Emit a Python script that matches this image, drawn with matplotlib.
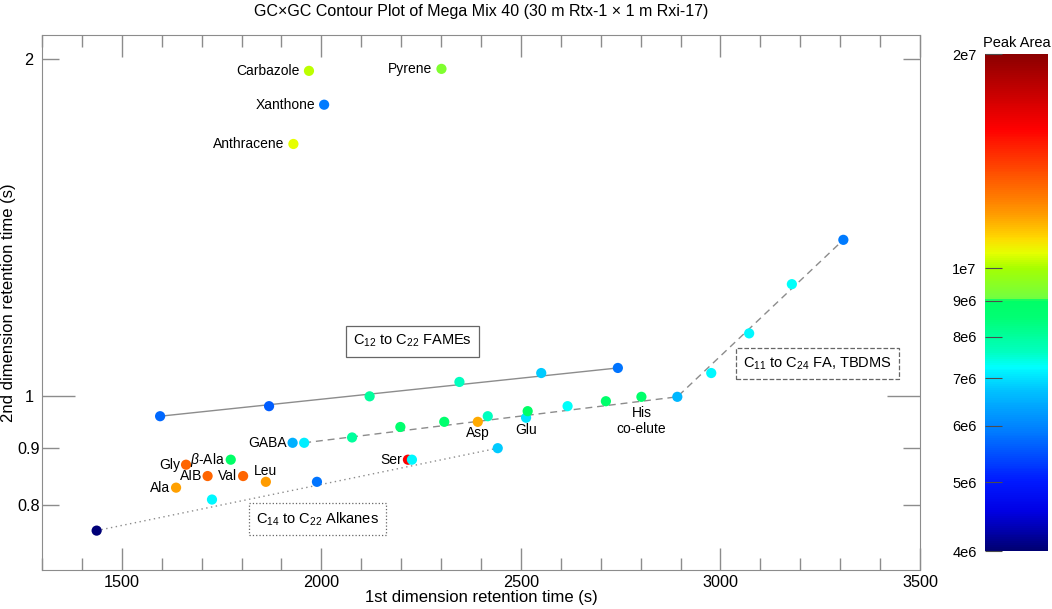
import numpy as np
import matplotlib
matplotlib.use('Agg')
import matplotlib.pyplot as plt
from matplotlib.colors import LogNorm, LinearSegmentedColormap
from matplotlib.ticker import FixedLocator, FuncFormatter, MultipleLocator, NullLocator

plt.rcParams['font.family'] = ['Liberation Sans', 'DejaVu Sans']
plt.rcParams['mathtext.fontset'] = 'custom'
plt.rcParams['mathtext.rm'] = 'Liberation Sans'
plt.rcParams['mathtext.it'] = 'Liberation Sans:italic'

# aromatic standards (no guide line)
aro_names = ['Carbazole', 'Pyrene', 'Xanthone', 'Anthracene']
aro_x = [1969, 2301, 2007, 1930]
aro_y = [1.951, 1.959, 1.820, 1.679]
aro_area = [1.02e7, 9.3e6, 5.9e6, 1.05e7]

# C12-C22 FAMEs
fame_x = [1596, 1869, 2121, 2346, 2551, 2743]
fame_y = [0.960, 0.980, 1.000, 1.030, 1.049, 1.060]
fame_area = [5.7e6, 5.6e6, 8.0e6, 7.6e6, 6.8e6, 5.8e6]

# C11-C24 FA, TBDMS
fa_x = [1957, 2077, 2198, 2308, 2417, 2517, 2617, 2713, 2802, 2892, 2977, 3072, 3179, 3308]
fa_y = [0.909, 0.919, 0.939, 0.949, 0.960, 0.970, 0.980, 0.990, 0.999, 0.999, 1.049, 1.138, 1.259, 1.379]
fa_area = [7.1e6, 8.0e6, 8.7e6, 8.7e6, 7.6e6, 9.0e6, 7.3e6, 8.8e6, 8.8e6, 6.6e6, 7.2e6, 7.2e6, 7.3e6, 5.9e6]
fa_kink = 9
his_idx = 8

# C14-C22 alkanes
alk_x = [1437, 1726, 1989, 2227, 2442]
alk_y = [0.759, 0.809, 0.839, 0.878, 0.899]
alk_area = [4.05e6, 7.2e6, 5.8e6, 7.2e6, 6.8e6]

# amino acids
aa_names = ['Ala', 'Gly', 'AIB', r'$\beta$-Ala', 'Val', 'Leu', 'GABA', 'Ser', 'Asp', 'Glu']
aa_x = [1636, 1661, 1715, 1773, 1804, 1861, 1928, 2217, 2392, 2513]
aa_y = [0.829, 0.869, 0.849, 0.878, 0.849, 0.839, 0.909, 0.878, 0.949, 0.957]
aa_area = [1.18e7, 1.31e7, 1.31e7, 9.0e6, 1.31e7, 1.19e7, 6.5e6, 1.57e7, 1.17e7, 7.0e6]

cbar_ticks = [4e6, 5e6, 6e6, 7e6, 8e6, 9e6, 1e7, 2e7]
cbar_labels = ['4e6', '5e6', '6e6', '7e6', '8e6', '9e6', '1e7', '2e7']

# colour table sampled from the reference bar
cmap = LinearSegmentedColormap.from_list('peak', [
    (0.0, (0, 0, 0.45)), (0.08, (0, 0, 0.9)), (0.14, (0, 0.1, 1)),
    (0.23, (0, 0.45, 1)), (0.32, (0, 0.75, 1)), (0.37, (0, 1, 1)),
    (0.40, (0, 1, 0.75)), (0.47, (0, 1, 0.45)), (0.505, (0, 1, 0.4)),
    (0.51, (0.45, 1, 0.25)), (0.57, (0.65, 1, 0)), (0.60, (0.9, 1, 0)),
    (0.63, (1, 0.85, 0)), (0.68, (1, 0.6, 0)), (0.75, (1, 0.35, 0)),
    (0.85, (1, 0, 0)), (0.90, (0.85, 0, 0)), (1.0, (0.55, 0, 0))])
norm = LogNorm(vmin=4e6, vmax=2e7)

fig = plt.figure(figsize=(10.52, 6.09), dpi=100)
ax = fig.add_axes([0.0399, 0.064, 0.8346, 0.8785])
cax = fig.add_axes([0.9363, 0.0952, 0.0599, 0.8161])

grey = '0.55'
ax.plot([fame_x[0], fame_x[-1]], [fame_y[0], fame_y[-1]], color=grey, lw=1, zorder=1)
idx = [0, fa_kink, len(fa_x) - 1]
ax.plot([fa_x[i] for i in idx], [fa_y[i] for i in idx], color=grey, lw=1, ls=(0, (5, 3.5)), zorder=1)
ax.plot([alk_x[0], alk_x[-1]], [alk_y[0], alk_y[-1]], color=grey, lw=1, ls=(0, (1, 2.5)), zorder=1)

kw = dict(s=54, cmap=cmap, norm=norm, edgecolors='none')
ax.scatter(aro_x, aro_y, c=aro_area, zorder=2, **kw)
ax.scatter(aa_x, aa_y, c=aa_area, zorder=2, **kw)
ax.scatter(fame_x, fame_y, c=fame_area, zorder=3, **kw)
ax.scatter(fa_x, fa_y, c=fa_area, zorder=3, **kw)
sc = ax.scatter(alk_x, alk_y, c=alk_area, zorder=3, **kw)

lab = dict(fontsize=10, color='black')
for n, x, y in zip(aro_names, aro_x, aro_y):
    ax.annotate(n, (x, y), xytext=(-6.5, 0), textcoords='offset points', ha='right', va='center', **lab)

aa_place = {'Leu': (0, 8, 'center'), 'Asp': (0, -8, 'center'), 'Glu': (0, -8.5, 'center')}
for n, x, y in zip(aa_names, aa_x, aa_y):
    dx, dy, ha = aa_place.get(n, (-4, 0, 'right'))
    ax.annotate(n, (x, y), xytext=(dx, dy), textcoords='offset points', ha=ha, va='center', **lab)

ax.annotate('His\nco-elute', (fa_x[his_idx], fa_y[his_idx]), xytext=(0, -6.5), textcoords='offset points',
            ha='center', va='top', multialignment='center', linespacing=1.2, **lab)

box = dict(boxstyle='square,pad=0.5', fc='white', ec='0.4', lw=0.9)
ax.text(2229, 1.12, r'C$_{12}$ to C$_{22}$ FAMEs', ha='center', va='center', fontsize=10.5,
        bbox=dict(box, ls='-'))
ax.text(3244, 1.070, r'C$_{11}$ to C$_{24}$ FA, TBDMS', ha='center', va='center', fontsize=10.5,
        bbox=dict(box, ls='--'))
ax.text(1990, 0.777, r'C$_{14}$ to C$_{22}$ Alkanes', ha='center', va='center', fontsize=10.5,
        bbox=dict(box, ls=':'))

ax.set_xlim(1300, 3500)
ax.set_yscale('log')
ax.set_ylim(0.70, 2.10)
ax.xaxis.set_major_locator(MultipleLocator(500))
ax.xaxis.set_minor_locator(MultipleLocator(100))
ax.yaxis.set_major_locator(FixedLocator([1]))
ax.yaxis.set_minor_locator(FixedLocator([0.8, 0.9, 2]))
fmt = FuncFormatter(lambda v, p: f'{v:g}')
ax.yaxis.set_major_formatter(fmt)
ax.yaxis.set_minor_formatter(fmt)
ax.tick_params(axis='both', which='both', direction='in', top=True, right=True, color=grey,
               labelsize=11.7, width=1)
ax.tick_params(axis='x', which='major', length=16, pad=3.5)
ax.tick_params(axis='x', which='minor', length=8.5)
ax.tick_params(axis='y', which='major', length=24, pad=9.5)
ax.tick_params(axis='y', which='minor', length=12, pad=9.5)
for t in ax.get_yticklabels(which='both'):
    t.set_ha('center')
for s in ax.spines.values():
    s.set_color(grey)

ax.set_xlabel('1st dimension retention time (s)', fontsize=12, labelpad=0)
ax.set_ylabel('2nd dimension retention time (s)', fontsize=12)
ax.yaxis.label.set_va('center')
ax.yaxis.set_label_coords(-0.0376, 0.5)
ax.set_title('GC×GC Contour Plot of Mega Mix 40 (30 m Rtx-1 × 1 m Rxi-17)', fontsize=11.5, pad=14)

cb = fig.colorbar(sc, cax=cax)
cb.set_ticks(cbar_ticks)
cb.set_ticklabels(cbar_labels)
cax.yaxis.set_minor_locator(NullLocator())
cax.yaxis.set_ticks_position('left')
cax.tick_params(direction='in', length=12, color='0.3', labelsize=10.5, pad=6)
cb.outline.set_visible(False)
cax.set_title('Peak Area', fontsize=10.5, pad=5)

fig.savefig('out.png', dpi=100)
